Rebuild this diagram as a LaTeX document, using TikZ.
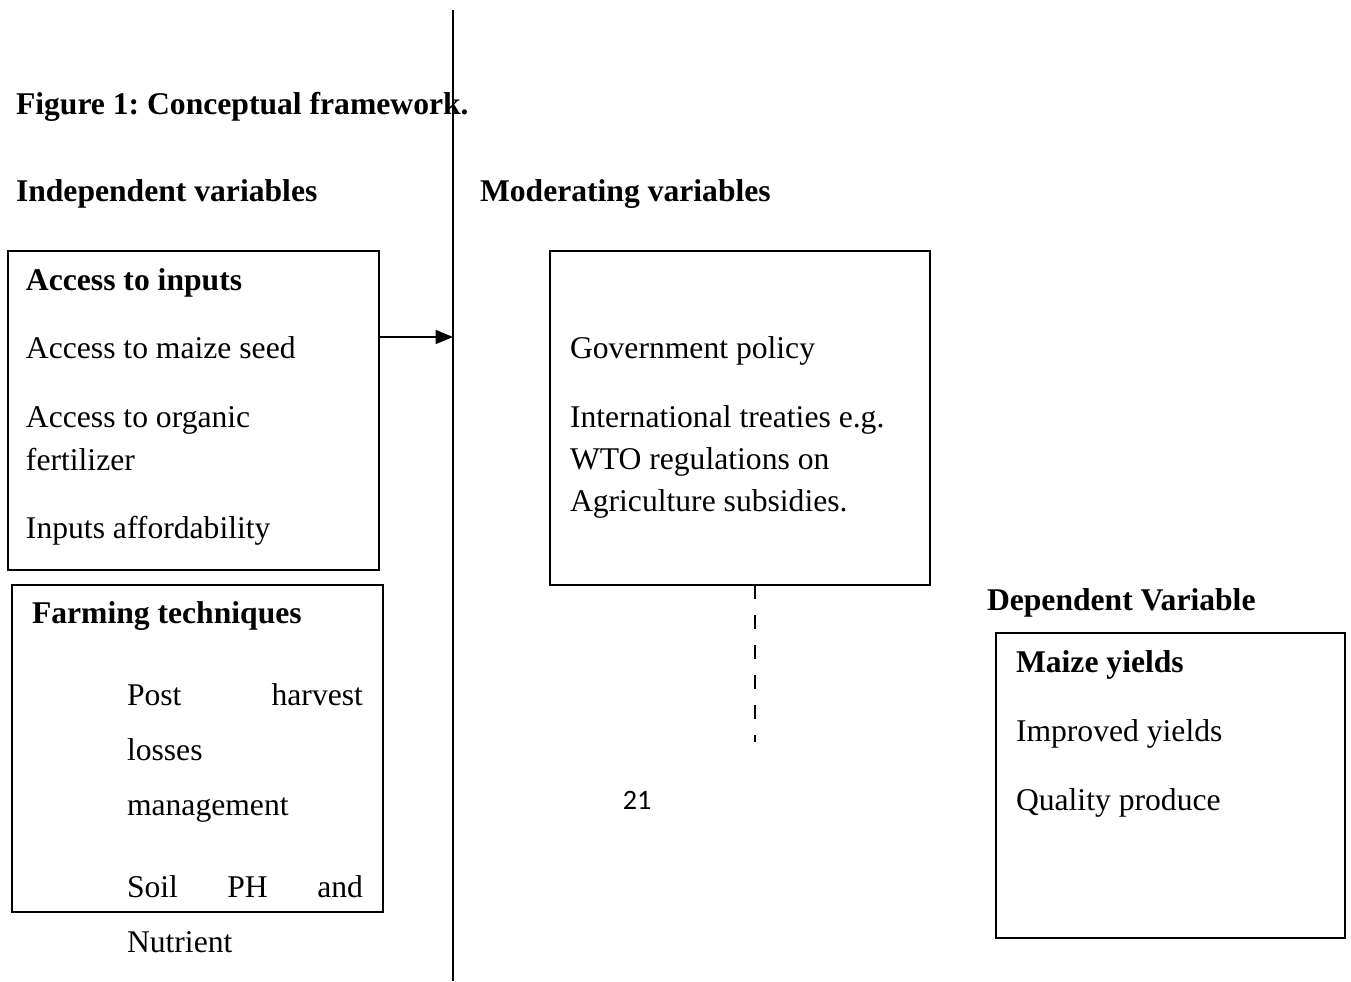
\documentclass[tikz,border=0pt]{standalone}
\usepackage{fontspec}
\setmainfont{Liberation Serif}
\newfontfamily\pagenofont{Carlito}
\usetikzlibrary{arrows.meta,calc}
\frenchspacing

\begin{document}
\begin{tikzpicture}[x=0.02cm, y=-0.02cm,
    every node/.style={inner sep=0pt, outer sep=0pt, font=\fontsize{18}{21}\selectfont},
    varbox/.style={draw, line width=1pt, anchor=north west},
    txt/.style={anchor=base west},
    head/.style={anchor=base west, font=\fontsize{18}{21}\selectfont\bfseries}]
    \useasboundingbox (0,0) rectangle (1351,981);
    % headings
    \node[head] (title) at (16,114) {Figure 1: Conceptual framework.};
    \node[head] (indep) at (16,201) {Independent variables};
    \node[head] (moder) at (480,201) {Moderating variables};
    \node[head] (depen) at (987,610) {Dependent Variable};
    % boxes
    \node[varbox, minimum width=7.42cm, minimum height=6.38cm] (inputs) at (8,251) {};
    \node[varbox, minimum width=7.42cm, minimum height=6.54cm] (techniques) at (12,585) {};
    \node[varbox, minimum width=7.6cm, minimum height=6.68cm] (policy) at (550,251) {};
    \node[varbox, minimum width=6.98cm, minimum height=6.1cm] (yields) at (996,633) {};
    % access to inputs
    \node[head] (inputs1) at (26,290) {Access to inputs};
    \node[txt] (inputs2) at (26,358) {Access to maize seed};
    \node[txt] (inputs3) at (26,427) {Access to organic};
    \node[txt] (inputs4) at (26,470) {fertilizer};
    \node[txt] (inputs5) at (26,538) {Inputs affordability};
    % farming techniques
    \node[head] (tech1) at (32,623) {Farming techniques};
    \node[txt, text width=4.72cm] (tech2) at (127,705) {Post\hfill harvest};
    \node[txt] (tech3) at (127,760) {losses};
    \node[txt] (tech4) at (127,815) {management};
    \node[txt, text width=4.72cm] (tech5) at (127,897) {Soil\hfill PH\hfill and};
    \node[txt] (tech6) at (127,952) {Nutrient};
    % moderating
    \node[txt] (pol1) at (570,358) {Government policy};
    \node[txt] (pol2) at (570,427) {International treaties e.g.};
    \node[txt] (pol3) at (570,469) {WTO regulations on};
    \node[txt] (pol4) at (570,511) {Agriculture subsidies.};
    % dependent
    \node[head] (yld1) at (1016,672) {Maize yields};
    \node[txt] (yld2) at (1016,741) {Improved yields};
    \node[txt] (yld3) at (1016,810) {Quality produce};
    % page number
    \node[anchor=base, font=\pagenofont\fontsize{16}{18}\selectfont] (pageno) at (637,809) {21};
    % connectors
    \coordinate (divtop) at (453,10);
    \coordinate (divbot) at (453,981);
    \coordinate (arrowtip) at (453,337);
    \coordinate (dashend) at (755,742);
    \draw[line width=1pt] (divtop) -- (divbot);
    \draw[line width=1pt,-{Triangle[length=3.5mm,width=2.8mm]}] (inputs.east |- arrowtip) -- (arrowtip);
    \draw[line width=1pt,dash pattern=on 0.28cm off 0.32cm] (policy.south -| dashend) -- (dashend);
\end{tikzpicture}
\end{document}
